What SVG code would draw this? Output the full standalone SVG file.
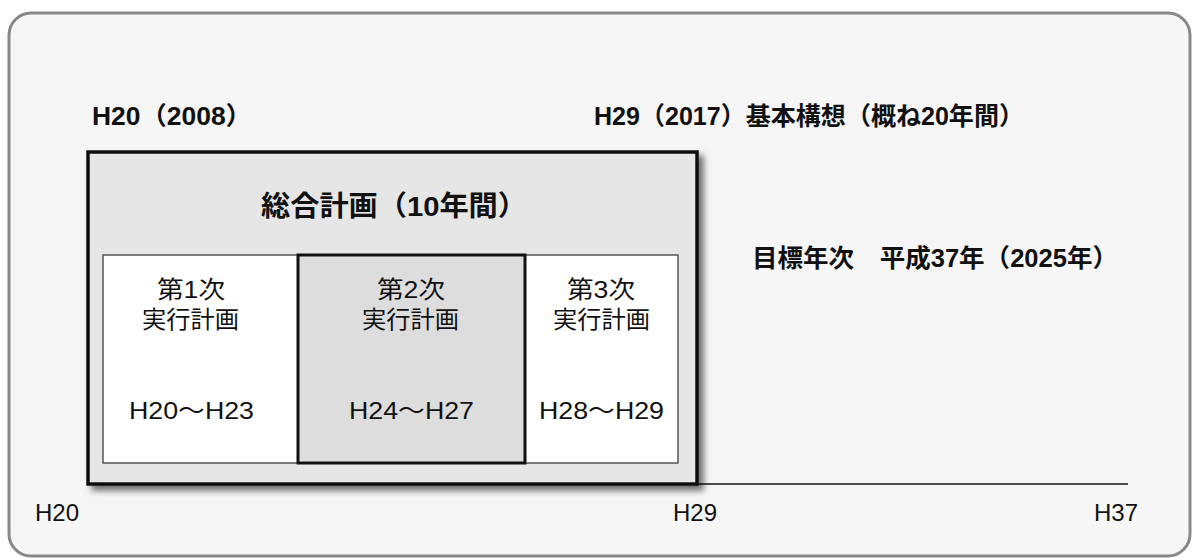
<svg xmlns="http://www.w3.org/2000/svg" width="1196" height="558" viewBox="0 0 1196 558">
<defs>
<style>
text{font-family:'Liberation Sans','Noto Sans CJK JP',sans-serif;fill:#111;}
.hd{font-size:25px;font-weight:bold;}
.tt{font-size:28px;font-weight:bold;}
.in{font-size:24px;}
.ax{font-size:24px;}
.sub{fill:#fff;stroke:#555;stroke-width:1.5;}
</style>
<filter id="sh" x="-10%" y="-10%" width="130%" height="130%">
<feDropShadow dx="5" dy="5" stdDeviation="3" flood-color="#000" flood-opacity="0.55"/>
</filter>
</defs>
<rect x="9" y="13" width="1181" height="543" rx="22" ry="22" fill="#f6f6f6" stroke="#888" stroke-width="3"/>
<g id="connectors">
<line x1="697" y1="484" x2="1128" y2="484" stroke="#111" stroke-width="1.5"/>
</g>
<g id="labels">
<text class="hd" x="92" y="125" textLength="160" lengthAdjust="spacingAndGlyphs">H20（2008）</text>
<text class="hd" x="594" y="125" textLength="430" lengthAdjust="spacingAndGlyphs">H29（2017）基本構想（概ね20年間）</text>
<text class="hd" x="752" y="267" textLength="366" lengthAdjust="spacingAndGlyphs">目標年次　平成37年（2025年）</text>
<text class="ax" x="35" y="521">H20</text>
<text class="ax" x="673" y="521">H29</text>
<text class="ax" x="1094" y="521">H37</text>
</g>
<g id="sougou">
<rect x="88" y="152" width="609" height="332" fill="#e6e6e6" stroke="#111" stroke-width="3.5" filter="url(#sh)"/>
<text class="tt" x="261" y="216" textLength="266" lengthAdjust="spacingAndGlyphs">総合計画（10年間）</text>
</g>
<g id="plan1">
<rect class="sub" x="103" y="255" width="195" height="208"/>
<text class="in" x="157" y="298" textLength="68" lengthAdjust="spacingAndGlyphs">第1次</text>
<text class="in" x="142" y="328" textLength="97" lengthAdjust="spacingAndGlyphs">実行計画</text>
<text class="in" x="129" y="419" textLength="125" lengthAdjust="spacingAndGlyphs">H20〜H23</text>
</g>
<g id="plan3">
<rect class="sub" x="525" y="255" width="153" height="208"/>
<text class="in" x="567" y="298" textLength="68" lengthAdjust="spacingAndGlyphs">第3次</text>
<text class="in" x="553" y="328" textLength="97" lengthAdjust="spacingAndGlyphs">実行計画</text>
<text class="in" x="539" y="419" textLength="125" lengthAdjust="spacingAndGlyphs">H28〜H29</text>
</g>
<g id="plan2">
<rect x="298" y="255" width="227" height="208" fill="#dcdddc" stroke="#111" stroke-width="3"/>
<text class="in" x="377" y="298" textLength="68" lengthAdjust="spacingAndGlyphs">第2次</text>
<text class="in" x="362" y="328" textLength="97" lengthAdjust="spacingAndGlyphs">実行計画</text>
<text class="in" x="349" y="419" textLength="125" lengthAdjust="spacingAndGlyphs">H24〜H27</text>
</g>
</svg>
